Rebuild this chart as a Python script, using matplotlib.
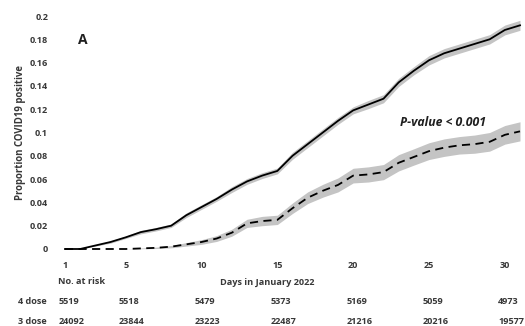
import numpy as np
import matplotlib
matplotlib.use("Agg")
import matplotlib.pyplot as plt
import matplotlib.transforms as mtransforms

# days of January 2022
days = list(range(1, 32))

# proportion positive, 4 dose (solid) and 3 dose (dashed)
dose4 = [0, 0, 0.003, 0.006, 0.010, 0.0145, 0.017, 0.020, 0.029, 0.036,
         0.043, 0.051, 0.058, 0.063, 0.067, 0.080, 0.090, 0.100, 0.110, 0.119,
         0.124, 0.129, 0.143, 0.153, 0.162, 0.168, 0.172, 0.176, 0.180, 0.188,
         0.192]
dose3 = [0, 0, 0, 0, 0, 0.0005, 0.001, 0.002, 0.004, 0.006,
         0.009, 0.014, 0.022, 0.024, 0.025, 0.035, 0.044, 0.050, 0.055, 0.063,
         0.064, 0.066, 0.074, 0.079, 0.084, 0.087, 0.089, 0.090, 0.092, 0.098,
         0.101]

# half width of the grey confidence bands
ci4 = [0, 0, 0.0005, 0.001, 0.001, 0.0015, 0.0015, 0.0015, 0.002, 0.002,
       0.002, 0.0025, 0.0025, 0.0025, 0.0025, 0.003, 0.003, 0.003, 0.003, 0.003,
       0.0035, 0.0035, 0.0035, 0.0035, 0.004, 0.004, 0.004, 0.004, 0.004, 0.0042,
       0.0043]
ci3 = [0, 0, 0, 0, 0, 0.0003, 0.0006, 0.001, 0.0015, 0.002,
       0.0025, 0.003, 0.0035, 0.004, 0.004, 0.0045, 0.005, 0.0055, 0.006, 0.0063,
       0.0065, 0.0065, 0.007, 0.007, 0.0072, 0.0075, 0.0075, 0.0078, 0.008, 0.008,
       0.0082]

xticks = [1, 5, 10, 15, 20, 25, 30]
yticks = [0, 0.02, 0.04, 0.06, 0.08, 0.1, 0.12, 0.14, 0.16, 0.18, 0.2]
ytick_labels = ["0", "0.02", "0.04", "0.06", "0.08", "0.1", "0.12", "0.14", "0.16", "0.18", "0.2"]
risk_4dose = ["5519", "5518", "5479", "5373", "5169", "5059", "4973"]
risk_3dose = ["24092", "23844", "23223", "22487", "21216", "20216", "19577"]

txt = "#383838"
fs = 6.6
plt.rcParams['font.family'] = ['Open Sans', 'DejaVu Sans']
plt.rcParams['font.weight'] = 'bold'

W, H = 525, 326
fig = plt.figure(figsize=(W / 100, H / 100), dpi=100)

# pixel layout: day 1 at x=65, day 31 at x=520; y=0 at 249, y=0.2 at 16
px_day = (520 - 65) / 30
px_val = (249 - 16) / 0.2
left, right, top, bottom = 55, 525, 10, 255
ax = fig.add_axes([left / W, 1 - bottom / H, (right - left) / W, (bottom - top) / H])
ax.set_xlim(1 - (65 - left) / px_day, 31 + (right - 520) / px_day)
ax.set_ylim(-(bottom - 249) / px_val, 0.2 + (16 - top) / px_val)

d = np.array(days)
a4 = np.array(dose4)
a3 = np.array(dose3)
ax.fill_between(d, a4 - np.array(ci4), a4 + np.array(ci4), color="#c4c4c4", lw=0)
ax.fill_between(d, a3 - np.array(ci3), a3 + np.array(ci3), color="#c4c4c4", lw=0)
ax.plot(d, a4, color="black", lw=1.3)
ax.plot(d, a3, color="black", lw=1.3, dashes=(4.5, 3))

for s in ax.spines.values():
    s.set_visible(False)
ax.set_xticks(xticks)
ax.set_xticklabels([str(t) for t in xticks], fontweight='bold')
ax.set_yticks(yticks)
ax.set_yticklabels(ytick_labels, fontweight='bold')
ax.tick_params(length=0, labelsize=fs, colors=txt, pad=5)
ax.tick_params(axis='x', pad=4)

ax.set_ylabel("Proportion COVID19 positive", fontsize=fs + 0.3, color=txt,
              fontweight='bold', labelpad=3)

ax.text(78 / W, 1 - 40 / H, "A", transform=fig.transFigure, fontsize=10,
        fontweight='bold', color="#202020", va='center', ha='left')
ax.text(443 / W, 1 - 122 / H, "P-value < 0.001", transform=fig.transFigure,
        fontsize=8.8, fontweight='bold', fontstyle='italic', color="#202020",
        va='center', ha='center')

# number at risk table
blend = mtransforms.blended_transform_factory(ax.transData, fig.transFigure)
fig.text(58 / W, 1 - 282 / H, "No. at risk", fontsize=fs, color=txt,
         fontweight='bold', va='center', ha='left')
fig.text(267 / W, 1 - 282 / H, "Days in January 2022", fontsize=fs, color=txt,
         fontweight='bold', va='center', ha='center')
fig.text(18 / W, 1 - 301.5 / H, "4 dose", fontsize=fs, color=txt,
         fontweight='bold', va='center', ha='left')
fig.text(18 / W, 1 - 321.5 / H, "3 dose", fontsize=fs, color=txt,
         fontweight='bold', va='center', ha='left')
for t, n4, n3 in zip(xticks, risk_4dose, risk_3dose):
    ax.text(t - 0.45, 1 - 301.5 / H, n4, transform=blend, fontsize=fs,
            fontweight='bold', color=txt, va='center', ha='left', clip_on=False)
    ax.text(t - 0.45, 1 - 321.5 / H, n3, transform=blend, fontsize=fs,
            fontweight='bold', color=txt, va='center', ha='left', clip_on=False)

fig.savefig("out.png", dpi=100)
